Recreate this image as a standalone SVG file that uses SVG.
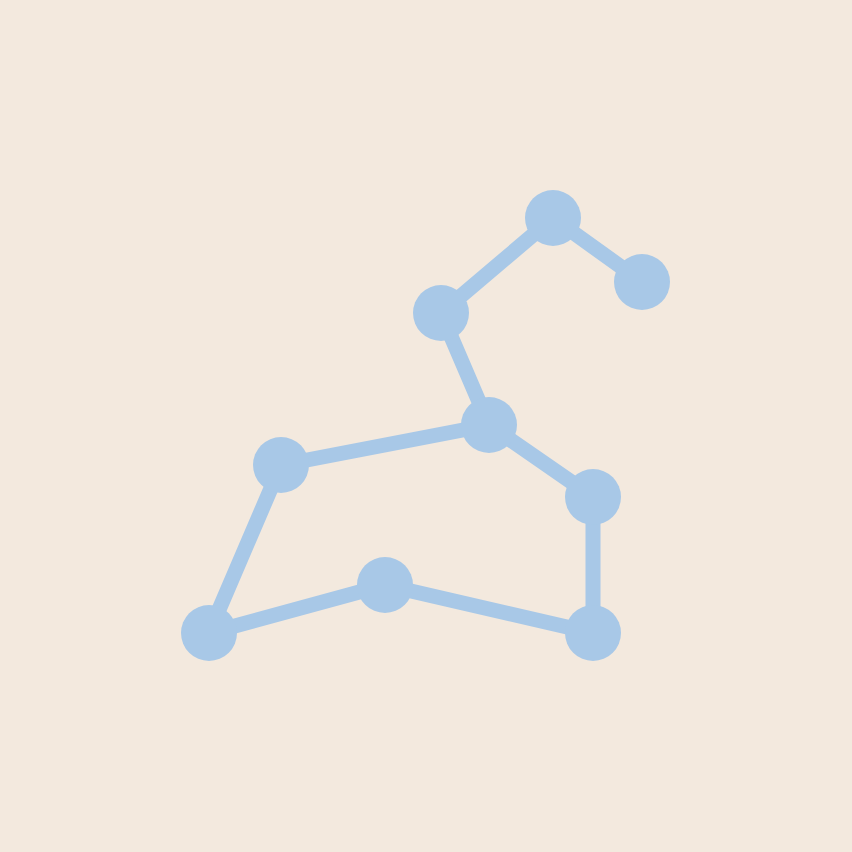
<svg xmlns="http://www.w3.org/2000/svg" width="852" height="852" viewBox="0 0 852 852">
<style>
.edge{stroke:#A8C8E7;stroke-width:15;stroke-linecap:round;fill:none}
.star{fill:#A8C8E7}
</style>
<rect width="852" height="852" fill="#F3E9DE"/>
<g id="connectors">
<line class="edge" x1="553" y1="218" x2="642" y2="282"/>
<line class="edge" x1="553" y1="218" x2="441" y2="313"/>
<line class="edge" x1="441" y1="313" x2="489" y2="425"/>
<line class="edge" x1="489" y1="425" x2="281" y2="465"/>
<line class="edge" x1="489" y1="425" x2="593" y2="497"/>
<line class="edge" x1="593" y1="497" x2="593" y2="633"/>
<line class="edge" x1="593" y1="633" x2="385" y2="585"/>
<line class="edge" x1="385" y1="585" x2="209" y2="633"/>
<line class="edge" x1="209" y1="633" x2="281" y2="465"/>
</g>
<g id="star-a"><circle class="star" cx="553" cy="218" r="28"/></g>
<g id="star-b"><circle class="star" cx="642" cy="282" r="28"/></g>
<g id="star-c"><circle class="star" cx="441" cy="313" r="28"/></g>
<g id="star-d"><circle class="star" cx="489" cy="425" r="28"/></g>
<g id="star-e"><circle class="star" cx="281" cy="465" r="28"/></g>
<g id="star-f"><circle class="star" cx="593" cy="497" r="28"/></g>
<g id="star-g"><circle class="star" cx="593" cy="633" r="28"/></g>
<g id="star-h"><circle class="star" cx="385" cy="585" r="28"/></g>
<g id="star-i"><circle class="star" cx="209" cy="633" r="28"/></g>
</svg>
